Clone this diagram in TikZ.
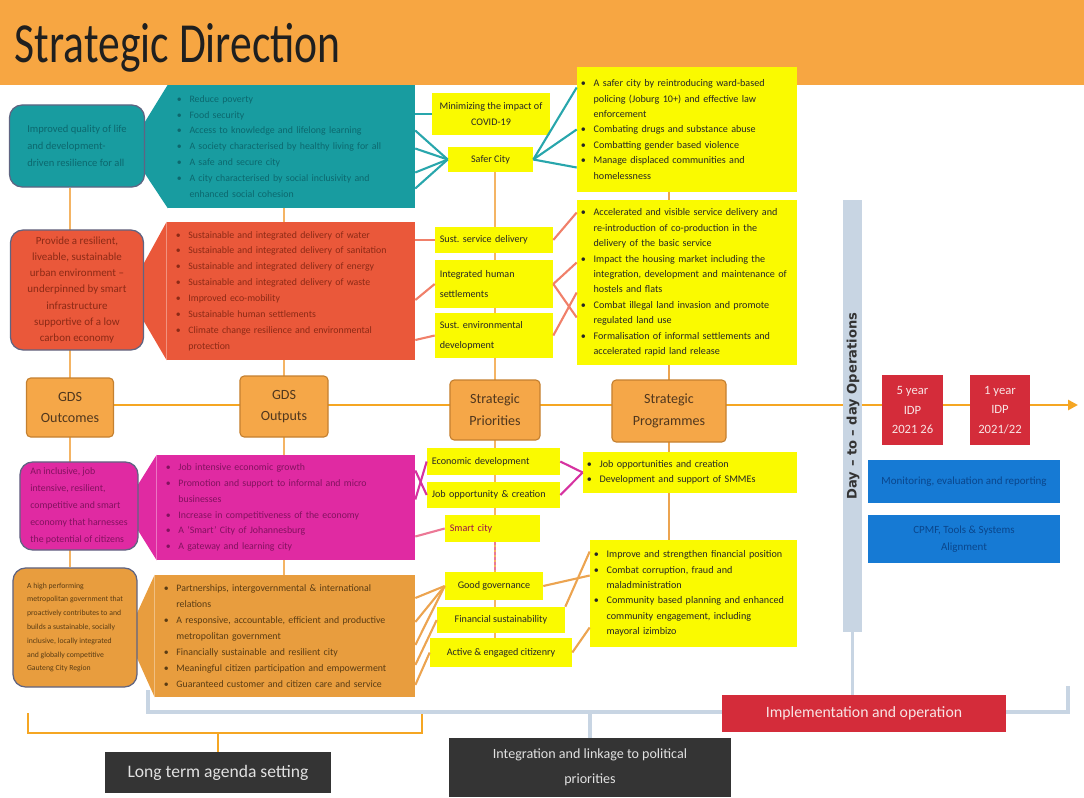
\documentclass[tikz,border=0pt]{standalone}
\usepackage{fontspec}
\usepackage{graphicx}
\setmainfont{Carlito}
\newfontfamily\opsfont{DejaVu Sans}
\usetikzlibrary{arrows.meta, positioning, calc}
\pgfdeclarelayer{bg}
\pgfsetlayers{bg,main}
\definecolor{titleorange}{RGB}{247,166,66}
\definecolor{tealfill}{RGB}{24,156,160}
\definecolor{tealtext}{RGB}{12,104,110}
\definecolor{redfill}{RGB}{234,88,58}
\definecolor{redtext}{RGB}{140,42,22}
\definecolor{magfill}{RGB}{224,42,162}
\definecolor{magtext}{RGB}{130,18,95}
\definecolor{orgfill}{RGB}{232,157,62}
\definecolor{orgtext}{RGB}{90,60,20}
\definecolor{goaledge}{RGB}{95,100,130}
\definecolor{axisfill}{RGB}{245,167,72}
\definecolor{axisline}{RGB}{196,128,48}
\definecolor{axistext}{RGB}{80,55,30}
\definecolor{axisarrow}{RGB}{245,166,35}
\definecolor{hiyellow}{RGB}{250,250,0}
\definecolor{idpred}{RGB}{212,44,58}
\definecolor{idptext}{RGB}{248,228,228}
\definecolor{opsblue}{RGB}{22,122,212}
\definecolor{opstext}{RGB}{10,70,140}
\definecolor{steel}{RGB}{200,213,227}
\definecolor{darkbox}{RGB}{52,52,52}
\definecolor{agendatext}{RGB}{225,225,225}
\definecolor{linkteal}{RGB}{40,166,172}
\definecolor{linkred}{RGB}{240,128,106}
\definecolor{linkmag}{RGB}{214,50,160}
\definecolor{linkorg}{RGB}{236,164,80}
\definecolor{spinecol}{RGB}{244,180,100}
\definecolor{smartpink}{RGB}{236,120,150}
\newcommand{\bu}{\makebox[9pt][l]{\textbullet}}
\newcommand{\nb}{\hspace*{9pt}}
\frenchspacing

\begin{document}
\begin{tikzpicture}[x=0.025cm, y=-0.025cm, font=\fontsize{7}{10}\selectfont,
  goalbox/.style={rounded corners=9pt, draw=goaledge, line width=0.9pt, inner sep=3pt, align=left},
  outbox/.style={inner xsep=0.22cm, inner ysep=2pt, align=left, font=\fontsize{7}{11.3}\selectfont},
  pribox/.style={fill=hiyellow, inner xsep=0.12cm, inner ysep=1pt, text=black!85, font=\fontsize{7.2}{11}\selectfont},
  progbox/.style={fill=hiyellow, inner xsep=0.1cm, align=left, text=black!85, font=\fontsize{7.2}{11}\selectfont},
  axisbox/.style={fill=axisfill, draw=axisline, line width=0.8pt, rounded corners=3pt, align=center, text=axistext, font=\fontsize{10}{15.5}\selectfont},
  idpbox/.style={fill=idpred, text=idptext, align=center, minimum height=1.75cm, font=\fontsize{9}{14}\selectfont},
  opsbox/.style={fill=opsblue, text=opstext, align=center, minimum width=4.8cm, font=\fontsize{7.8}{12}\selectfont},
  agendabox/.style={fill=darkbox, text=agendatext, align=center},
  link/.style={line width=1.5pt},
  spine/.style={spinecol, line width=2pt}]
  \useasboundingbox (0,0) rectangle (1084,797);

  % title band
  \fill[titleorange] (0,0) rectangle (1084,85);
  \node[anchor=base west, font=\fontsize{31}{34}\selectfont, text=black!88] (title) at (10,62) {\scalebox{1}[1.3]{Strategic Direction}};

  % GDS outcomes
  \node[goalbox, fill=tealfill, text=tealtext, minimum width=3.375cm, minimum height=2.05cm, font=\fontsize{7.5}{12}\selectfont] (tealgoal) at (77,146)
    {Improved quality of life\\and development-\\driven resilience for all};
  \node[goalbox, fill=redfill, text=redtext, align=center, minimum width=3.325cm, minimum height=3cm, font=\fontsize{7.8}{11.5}\selectfont] (redgoal) at (77,290)
    {Provide a resilient,\\liveable, sustainable\\urban environment –\\underpinned by smart\\infrastructure\\supportive of a low\\carbon economy};
  \node[goalbox, fill=magfill, text=magtext, minimum width=2.95cm, minimum height=2.2cm, font=\fontsize{7}{12}\selectfont] (maggoal) at (79,506)
    {An inclusive, job\\intensive, resilient,\\competitive and smart\\economy that harnesses\\the potential of citizens};
  \node[goalbox, fill=orgfill, text=orgtext, minimum width=3.1cm, minimum height=2.975cm, font=\fontsize{5.5}{9.8}\selectfont] (orggoal) at (75,627.5)
    {A high performing\\metropolitan government that\\proactively contributes to and\\builds a sustainable, socially\\inclusive, locally integrated\\and globally competitive\\Gauteng City Region};

  % GDS outputs
  \node[outbox, fill=tealfill, text=tealtext, text width=5.73cm, minimum height=3.075cm] (tealout) at (291.5,146.5)
    {\bu Reduce poverty\\
     \bu Food security\\
     \bu Access to knowledge and lifelong learning\\
     \bu A society characterised by healthy living for all\\
     \bu A safe and secure city\\
     \bu A city characterised by social inclusivity and\\
     \nb enhanced social cohesion};
  \node[outbox, fill=redfill, text=redtext, text width=5.76cm, minimum height=3.45cm] (redout) at (291,291)
    {\bu Sustainable and integrated delivery of water\\
     \bu Sustainable and integrated delivery of sanitation\\
     \bu Sustainable and integrated delivery of energy\\
     \bu Sustainable and integrated delivery of waste\\
     \bu Improved eco-mobility\\
     \bu Sustainable human settlements\\
     \bu Climate change resilience and environmental\\
     \nb protection};
  \node[outbox, fill=magfill, text=magtext, text width=6.01cm, minimum height=2.625cm] (magout) at (286,507.5)
    {\bu Job intensive economic growth\\
     \bu Promotion and support to informal and micro\\
     \nb businesses\\
     \bu Increase in competitiveness of the economy\\
     \bu A `Smart' City of Johannesburg\\
     \bu A gateway and learning city};
  \node[outbox, fill=orgfill, text=orgtext, text width=6.06cm, minimum height=3.05cm] (orgout) at (285,636)
    {\bu Partnerships, intergovernmental \& international\\
     \nb relations\\
     \bu A responsive, accountable, efficient and productive\\
     \nb metropolitan government\\
     \bu Financially sustainable and resilient city\\
     \bu Meaningful citizen participation and empowerment\\
     \bu Guaranteed customer and citizen care and service};

  % strategic priorities
  \node[pribox, align=center, minimum width=2.95cm, minimum height=1.05cm] (covid) at (491,114) {Minimizing the impact of\\COVID-19};
  \node[pribox, minimum width=2.125cm, minimum height=0.625cm] (safer) at (490.5,159.5) {Safer City};
  \node[pribox, align=left, text width=2.71cm, minimum height=0.65cm] (service) at (494,240) {Sust. service delivery};
  \node[pribox, align=left, text width=2.71cm, minimum height=1.2cm, font=\fontsize{7.2}{14}\selectfont] (humanset) at (494,284) {Integrated human\\settlements};
  \node[pribox, align=left, text width=2.71cm, minimum height=1.125cm, font=\fontsize{7.2}{14}\selectfont] (envdev) at (494,335.5) {Sust. environmental\\development};
  \node[pribox, align=left, text width=3.085cm, minimum height=0.675cm] (econdev) at (493.5,461.5) {Economic development};
  \node[pribox, align=left, text width=3.085cm, minimum height=0.65cm] (jobs) at (493.5,495) {Job opportunity \& creation};
  \node[pribox, align=left, text width=2.135cm, minimum height=0.675cm, text=magtext!80!red] (smartcity) at (492.5,528.5) {Smart city};
  \node[pribox, minimum width=2.45cm, minimum height=0.7cm] (goodgov) at (494,586) {Good governance};
  \node[pribox, minimum width=3.2cm, minimum height=0.65cm] (finsust) at (501,620) {Financial sustainability};
  \node[pribox, minimum width=3.55cm, minimum height=0.725cm] (citizenry) at (501,652.5) {Active \& engaged citizenry};

  % strategic programmes
  \node[progbox, text width=5.3cm, minimum height=3.125cm] (progsafety) at (687,129.5)
    {\bu A safer city by reintroducing ward-based\\
     \nb policing (Joburg 10+) and effective law\\
     \nb enforcement\\
     \bu Combating drugs and substance abuse\\
     \bu Combatting gender based violence\\
     \bu Manage displaced communities and\\
     \nb homelessness};
  \node[progbox, text width=5.3cm, minimum height=4.125cm] (progservice) at (687,282.5)
    {\bu Accelerated and visible service delivery and\\
     \nb re-introduction of co-production in the\\
     \nb delivery of the basic service\\
     \bu Impact the housing market including the\\
     \nb integration, development and maintenance of\\
     \nb hostels and flats\\
     \bu Combat illegal land invasion and promote\\
     \nb regulated land use\\
     \bu Formalisation of informal settlements and\\
     \nb accelerated rapid land release};
  \node[progbox, text width=5.15cm, minimum height=1.025cm] (progecon) at (690,472.5)
    {\bu Job opportunities and creation\\
     \bu Development and support of SMMEs};
  \node[progbox, text width=4.975cm, minimum height=2.675cm] (proggov) at (693.5,593.5)
    {\bu Improve and strengthen financial position\\
     \bu Combat corruption, fraud and\\
     \nb maladministration\\
     \bu Community based planning and enhanced\\
     \nb community engagement, including\\
     \nb mayoral izimbizo};

  % axis
  \node[axisbox, minimum width=2.175cm, minimum height=1.475cm] (gdsoutcomes) at (70,407.5) {GDS\\Outcomes};
  \node[axisbox, minimum width=2.2cm, minimum height=1.525cm] (gdsoutputs) at (284,406.5) {GDS\\Outputs};
  \node[axisbox, minimum width=2.25cm, minimum height=1.5cm] (strategicpri) at (495,410) {Strategic\\Priorities};
  \node[axisbox, minimum width=2.85cm, minimum height=1.55cm] (strategicprog) at (669,411) {Strategic\\Programmes};
  \coordinate (axisend) at (1078,405);

  % operations
  \node[fill=steel, minimum width=0.475cm, minimum height=10.8cm, inner sep=0pt] (opsbar) at (852.5,416) {};
  \node[rotate=90, font=\opsfont\bfseries\fontsize{9.3}{11}\selectfont, text=black!80] (opslabel) at (853,406) {Day – to – day Operations};
  \node[idpbox, minimum width=1.525cm] (idpfive) at (912.5,410) {5 year\\IDP\\2021 26};
  \node[idpbox, minimum width=1.5cm] (idpone) at (1000,410) {1 year\\IDP\\2021/22};
  \node[opsbox, minimum height=1.075cm] (monitoring) at (964,481.5) {Monitoring, evaluation and reporting};
  \node[opsbox, minimum height=1.2cm] (sdbip) at (964,539) {CPMF, Tools \& Systems\\Alignment};

  % bottom labels
  \node[fill=idpred, text=idptext, minimum width=7.1cm, minimum height=0.925cm, font=\fontsize{11.2}{14}\selectfont] (implementation) at (864,713.5) {Implementation and operation};
  \node[agendabox, minimum width=7.05cm, minimum height=1.475cm, font=\fontsize{10}{18}\selectfont] (integration) at (590,767.5) {Integration and linkage to political\\priorities};
  \node[agendabox, minimum width=5.65cm, minimum height=1.025cm, font=\fontsize{12.5}{15}\selectfont] (longterm) at (218,772.5) {Long term agenda setting};
  \coordinate (agL) at (28,713);
  \coordinate (agR) at (422,713);
  \coordinate (opsL) at (148,690);
  \coordinate (opsR) at (1068,686);

  \begin{pgfonlayer}{bg}
    % callout wedges
    \fill[tealfill] (tealout.north west) -- ($(tealgoal.east)+(-4,-18)$) -- ($(tealgoal.east)+(-4,22)$) -- (tealout.south west) -- cycle;
    \fill[redfill] (redout.north west) -- ($(redgoal.east)+(-4,-20)$) -- ($(redgoal.east)+(-4,25)$) -- (redout.south west) -- cycle;
    \fill[magfill] (magout.north west) -- ($(maggoal.east)+(-4,-16)$) -- ($(maggoal.east)+(-4,19)$) -- (magout.south west) -- cycle;
    \fill[orgfill] (orgout.north west) -- ($(orggoal.east)+(-4,-7)$) -- ($(orggoal.east)+(-4,23)$) -- (orgout.south west) -- cycle;
    % spines
    \draw[spine] (tealgoal.south -| gdsoutcomes) -- (orggoal.north -| gdsoutcomes);
    \draw[spine] (tealout.south -| gdsoutputs) -- (orgout.north -| gdsoutputs);
    \draw[spine] (safer.south -| strategicpri) -- (citizenry.north -| strategicpri);
    \draw[spine, linkorg] (progsafety.south -| strategicprog) -- (proggov.north -| strategicprog);
    \draw[axisarrow, line width=2pt, -{Triangle[length=7pt, width=7pt]}] (gdsoutcomes |- axisend) -- (axisend);
    % brackets
    \draw[axisarrow, line width=1.5pt] (agL) -- ++(0,20) -| (agR);
    \draw[axisarrow, line width=1.5pt] (longterm.north) -- ++(0,-19);
    \draw[steel, line width=2.5pt] (opsL) -- ++(0,22) -| (opsR);
    \draw[steel, line width=2.5pt] (integration.north) -- ++(0,-26);
    \draw[steel, line width=2.5pt] (opsbar.south) -- ++(0,80);
  \end{pgfonlayer}

  % teal links
  \draw[link, linkteal] (tealout.east |- covid.west) -- (covid.west);
  \foreach \dy in {-16,2,26,42} {
    \draw[link, linkteal] ($(tealout.east)+(0,\dy)$) -- (safer.west);
  }
  \foreach \dy in {-42,0,38} {
    \draw[link, linkteal] ($(progsafety.west)+(0,\dy)$) -- (safer.east);
  }
  % red links
  \draw[link, linkred] (redout.east |- service.west) -- (service.west);
  \draw[link, linkred] ($(redout.east)+(0,9)$) -- (humanset.west);
  \draw[link, linkred] ($(redout.east)+(0,49)$) -- (envdev.west);
  \draw[link, linkred] (service.east) -- ($(progservice.west)+(0,-70)$);
  \draw[link, linkred] (humanset.east) -- ($(progservice.west)+(0,-20)$);
  \draw[link, linkred] (humanset.east) -- ($(progservice.west)+(0,35)$);
  \draw[link, linkred] (envdev.east) -- ($(progservice.west)+(0,10)$);
  % magenta links
  \draw[link, linkmag] ($(magout.east)+(0,-37)$) -- (jobs.west);
  \draw[link, linkmag] ($(magout.east)+(0,-8)$) -- (econdev.west);
  \draw[link, smartpink] ($(magout.east)+(0,29)$) -- (smartcity.west);
  \draw[link, linkmag] (econdev.east) -- (progecon.west);
  \draw[link, linkmag] (jobs.east) -- (progecon.west);
  \draw[smartpink, line width=2pt, dash pattern=on 2pt off 1.5pt] (smartcity.south -| strategicpri) -- (goodgov.north -| strategicpri);
  % orange links
  \foreach \dy in {-38,-14,9} {
    \draw[link, linkorg] ($(orgout.east)+(0,\dy)$) -- (goodgov.west);
  }
  \draw[link, linkorg] ($(orgout.east)+(0,29)$) -- (finsust.west);
  \draw[link, linkorg] ($(orgout.east)+(0,49)$) -- (citizenry.west);
  \draw[link, linkorg] (goodgov.east) -- ($(proggov.west)+(0,-18)$);
  \draw[link, linkorg] (finsust.north east) -- ($(proggov.west)+(0,-42)$);
  \draw[link, linkorg] (citizenry.east) -- ($(proggov.west)+(0,34)$);
\end{tikzpicture}
\end{document}
